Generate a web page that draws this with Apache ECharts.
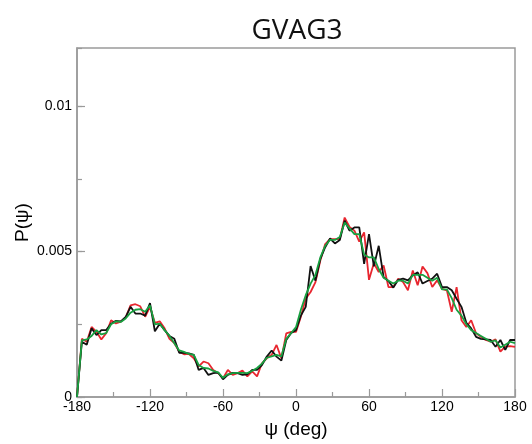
<!DOCTYPE html>
<html><head><meta charset="utf-8">
<script src="https://cdn.jsdelivr.net/npm/echarts@6/dist/echarts.min.js"></script>
<style>html,body{margin:0;padding:0;background:#fff}#c{width:532px;height:444px}</style>
</head><body><div id="c"></div>
<script>
const psi = [-180,-176,-172,-168,-164,-160,-156,-152,-148,-144,-140,-136,-132,-128,-124,-120,-116,-112,-108,-104,-100,-96,-92,-88,-84,-80,-76,-72,-68,-64,-60,-56,-52,-48,-44,-40,-36,-32,-28,-24,-20,-16,-12,-8,-4,0,4,8,12,16,20,24,28,32,36,40,44,48,52,56,60,64,68,72,76,80,84,88,92,96,100,104,108,112,116,120,124,128,132,136,140,144,148,152,156,160,164,168,172,176,180];
const blackP = [0,0.0019,0.0018,0.00236,0.00213,0.0023,0.0023,0.00252,0.00262,0.0026,0.00275,0.0031,0.00287,0.00287,0.0028,0.00323,0.00226,0.00252,0.0023,0.0021,0.002,0.00152,0.00152,0.0015,0.00145,0.00093,0.001,0.00076,0.00082,0.00084,0.00061,0.00076,0.00083,0.00082,0.00076,0.00078,0.00093,0.00093,0.0011,0.00139,0.0016,0.00139,0.00125,0.00196,0.0022,0.0023,0.0028,0.0031,0.0045,0.004,0.00475,0.00515,0.00545,0.00528,0.0054,0.00606,0.00572,0.00583,0.00583,0.00458,0.0056,0.00449,0.0052,0.00412,0.00399,0.00376,0.00403,0.00407,0.00401,0.00418,0.00429,0.0039,0.00399,0.00407,0.00424,0.00378,0.00378,0.00367,0.00338,0.0031,0.00255,0.00236,0.00207,0.002,0.00198,0.00196,0.00173,0.00196,0.00162,0.00196,0.00196];
const redP = [0,0.002,0.0019,0.00241,0.00224,0.00198,0.00219,0.00264,0.00253,0.00259,0.00273,0.00315,0.00319,0.00312,0.00276,0.0031,0.00255,0.0026,0.00236,0.002,0.00185,0.00156,0.00147,0.00148,0.00133,0.00105,0.00122,0.00116,0.00093,0.00082,0.00065,0.00093,0.00076,0.00082,0.00091,0.00071,0.00088,0.00071,0.00116,0.00133,0.00145,0.00179,0.00133,0.00219,0.00224,0.00224,0.00276,0.00338,0.00361,0.00395,0.00469,0.00526,0.00543,0.00543,0.00543,0.00617,0.00585,0.00572,0.00534,0.00566,0.00403,0.0046,0.0043,0.00452,0.00378,0.00378,0.00407,0.00395,0.00367,0.00435,0.00384,0.00449,0.00426,0.00378,0.00401,0.00372,0.00367,0.00293,0.00378,0.00264,0.00241,0.00264,0.00219,0.00207,0.00196,0.0019,0.00198,0.00156,0.00173,0.00175,0.00172];
const greenP = [0,0.00195,0.00198,0.0021,0.0023,0.00215,0.0022,0.0025,0.0026,0.00258,0.0027,0.0029,0.003,0.00302,0.00293,0.00315,0.0025,0.00252,0.0023,0.0021,0.00185,0.0016,0.00155,0.00148,0.00145,0.0011,0.001,0.00098,0.0009,0.00085,0.00066,0.00078,0.00082,0.00083,0.00083,0.00082,0.0009,0.001,0.00115,0.00135,0.0014,0.00145,0.0014,0.002,0.0022,0.0024,0.003,0.0035,0.0039,0.0042,0.0048,0.0052,0.0054,0.0054,0.0055,0.006,0.0058,0.0056,0.0056,0.0049,0.0048,0.0048,0.0044,0.0041,0.004,0.0039,0.004,0.004,0.0039,0.0042,0.0042,0.0042,0.0041,0.004,0.0041,0.0037,0.0037,0.0034,0.003,0.0028,0.0025,0.0023,0.0022,0.0021,0.002,0.0019,0.00195,0.0017,0.0018,0.0019,0.00185];
const xTicks = [-180,-120,-60,0,60,120,180];

const pair = arr => psi.map((x,i)=>[x,arr[i]]);
const frame = '#9a9a9a';
const chart = echarts.init(document.getElementById('c'));
const lbl = {color:'#000', fontFamily:'Liberation Sans, Arial, sans-serif', fontSize:14};
chart.setOption({
  animation:false,
  title:{text:'GVAG3', left:292, top:12, textAlign:'center',
    textStyle:{fontFamily:'Open Sans, sans-serif', fontSize:28, fontWeight:'normal', color:'#111'}},
  grid:{left:77, right:17, top:48, bottom:43, show:true, borderColor:frame, borderWidth:1.5, backgroundColor:'transparent'},
  xAxis:[{type:'value', min:-180, max:180, interval:60,
    name:'ψ (deg)', nameLocation:'middle', nameGap:23, nameMoveOverlap:false,
    nameTextStyle:{color:'#000', fontFamily:'Liberation Sans, Arial, sans-serif', fontSize:19},
    axisLine:{onZero:false, lineStyle:{color:frame, width:1.5}},
    axisTick:{inside:true, length:8, lineStyle:{color:frame, width:1.2}},
    minorTick:{show:true, splitNumber:2, length:5, lineStyle:{color:frame, width:1.2}},
    axisLabel:Object.assign({margin:3, formatter:v=>xTicks.includes(v)?String(v):''}, lbl),
    splitLine:{show:false}}],
  yAxis:[{type:'value', min:0, max:0.012, interval:0.005,
    name:'P(ψ)', nameLocation:'middle', nameGap:45, nameMoveOverlap:false,
    nameTextStyle:{color:'#000', fontFamily:'Liberation Sans, Arial, sans-serif', fontSize:19},
    axisLine:{onZero:false, lineStyle:{color:frame, width:1.5}},
    axisTick:{inside:true, length:8, lineStyle:{color:frame, width:1.2}},
    axisLabel:Object.assign({margin:5, showMaxLabel:false, formatter:v=>(Math.abs(v/0.005-Math.round(v/0.005))<1e-6)?String(+v.toFixed(4)):''}, lbl),
    splitLine:{show:false}},
   {type:'value', min:0, max:0.012, interval:0.0025, position:'left',
    axisLine:{show:false, onZero:false}, axisLabel:{show:false},
    axisTick:{inside:true, length:5, lineStyle:{color:frame, width:1.2}},
    splitLine:{show:false}}],
  series:[
    {type:'line', data:pair(redP), symbol:'none', lineStyle:{color:'#e8262f', width:1.8}, z:2},
    {type:'line', data:pair(blackP), symbol:'none', lineStyle:{color:'#111', width:1.8}, z:3},
    {type:'line', data:pair(greenP), symbol:'none', lineStyle:{color:'#18a040', width:1.8}, z:4}
  ]
});
</script></body></html>
